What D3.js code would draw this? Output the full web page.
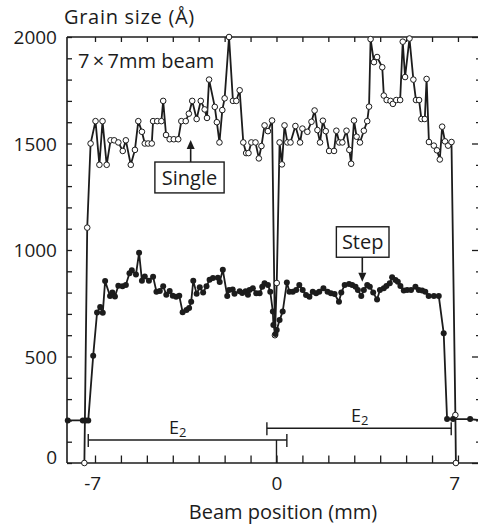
<!DOCTYPE html>
<html>
<head>
<meta charset="utf-8">
<script src="https://cdn.jsdelivr.net/npm/d3@7"></script>
<style>
body { margin: 0; background: #fff; }
svg text { font-family: "Open Sans", sans-serif; fill: #1c1c1c; }
</style>
</head>
<body>
<svg id="chart" width="478" height="526"></svg>
<script>
// grain size (Å) against beam position (mm)

var singleX = [-7.41,-7.30,-7.17,-6.98,-6.83,-6.71,-6.55,-6.40,-6.26,-6.10,
	-5.93,-5.81,-5.62,-5.46,-5.33,-5.19,-5.08,-4.95,-4.81,-4.76,
	-4.60,-4.44,-4.37,-4.26,-4.12,-3.96,-3.79,-3.67,-3.50,-3.38,
	-3.25,-3.08,-2.92,-2.77,-2.68,-2.60,-2.38,-2.30,-2.20,-2.09,
	-2.00,-1.83,-1.68,-1.55,-1.42,-1.28,-1.17,-1.08,-0.97,-0.81,
	-0.68,-0.58,-0.46,-0.33,-0.17,-0.06,0.01,0.12,0.21,0.31,
	0.42,0.54,0.73,0.91,1.00,1.19,1.35,1.47,1.58,1.68,
	1.79,1.90,2.03,2.22,2.31,2.42,2.54,2.70,2.81,2.88,
	2.99,3.09,3.22,3.37,3.50,3.57,3.63,3.76,3.88,4.08,
	4.14,4.25,4.40,4.49,4.62,4.77,4.87,4.96,5.13,5.28,
	5.38,5.50,5.59,5.72,5.79,5.88,6.07,6.19,6.30,6.39,
	6.50,6.62,6.75,6.90,6.92];
var singleY = [0,1105,1500,1605,1400,1605,1400,1515,1515,1505,
	1465,1515,1400,1470,1605,1555,1500,1500,1500,1605,
	1605,1605,1700,1540,1520,1520,1520,1605,1605,1640,
	1700,1615,1700,1660,1620,1800,1672,1600,1505,1657,
	1712,2000,1700,1700,1750,1505,1455,1455,1505,1505,
	1430,1488,1585,1558,1608,600,845,1505,1402,1585,
	1505,1505,1582,1505,1570,1555,1602,1655,1563,1505,
	1607,1558,1465,1465,1560,1505,1505,1560,1470,1405,
	1608,1532,1505,1560,1605,1673,1990,1882,1906,1858,
	1725,1704,1700,1686,1704,1704,1978,1812,1993,1800,
	1704,1704,1615,1615,1803,1507,1490,1468,1425,1579,
	1510,1490,1507,225,0];

var stepX = [-8.05,-7.47,-7.36,-7.26,-7.07,-6.92,-6.80,-6.70,-6.61,-6.42,
	-6.33,-6.23,-6.10,-5.94,-5.81,-5.67,-5.58,-5.42,-5.30,-5.19,
	-5.08,-4.92,-4.76,-4.63,-4.50,-4.37,-4.25,-4.12,-4.00,-3.87,
	-3.75,-3.62,-3.47,-3.37,-3.29,-3.21,-3.08,-2.96,-2.83,-2.70,
	-2.58,-2.45,-2.26,-2.19,-2.07,-1.90,-1.83,-1.69,-1.62,-1.42,
	-1.32,-1.19,-1.10,-1.04,-0.91,-0.78,-0.65,-0.55,-0.46,-0.33,
	-0.24,-0.14,-0.12,-0.04,0.01,0.12,0.24,0.40,0.50,0.63,
	0.76,0.88,1.01,1.14,1.27,1.40,1.53,1.65,1.81,1.97,
	2.10,2.24,2.41,2.50,2.63,2.80,2.92,3.05,3.14,3.27,
	3.37,3.50,3.60,3.73,3.88,3.99,4.14,4.24,4.37,4.46,
	4.59,4.68,4.78,4.91,5.04,5.19,5.36,5.49,5.62,5.74,
	5.87,6.07,6.26,6.45,6.58,6.81,7.47,7.90];
var stepY = [200,200,200,200,503,707,732,705,854,784,
	800,782,832,830,836,891,905,885,987,856,
	876,856,875,804,808,830,790,808,785,781,
	785,708,718,728,757,856,795,825,800,830,
	860,868,870,850,907,784,812,815,795,806,
	798,806,790,812,820,797,797,828,844,836,
	804,711,648,606,624,671,711,847,804,804,
	812,836,812,789,781,804,797,804,820,804,
	797,793,757,800,836,840,836,828,812,784,
	812,836,828,800,768,812,820,831,844,872,
	859,851,831,810,812,812,828,812,810,804,
	784,784,784,609,206,206,206,200];

// E2 bars (mm extent, height in Å) and their labels
var e2From = [-7.26, -0.37];
var e2To = [0.40, 6.74];
var e2Level = [108, 163];
var e2LabelX = [-3.81, 3.21];

var xTicks = [-7,-6,-5,-4,-3,-2,-1,0,1,2,3,4,5,6,7];
var xTickLabels = [-7, 0, 7];
var yTickLabels = [0, 500, 1000, 1500, 2000];
var xDomain = [-8.08, 7.85];
var yDomain = [0, 2000];

var svg = d3.select("#chart");
var ink = "#1c1c1c";

var x = d3.scaleLinear().domain(xDomain).range([67, 480]);
var y = d3.scaleLinear().domain(yDomain).range([463, 37]);
var yTicks = d3.range(0, 2001, 100);

function styleAxis(g) {
	g.select(".domain").remove();
	g.selectAll(".tick line").attr("stroke", ink).attr("stroke-width", 1.3);
	g.selectAll("text").attr("font-size", 19).attr("fill", ink);
}

// left axis, ticks point inwards
svg.append("g")
	.attr("transform", "translate(" + x(xDomain[0]) + ",0)")
	.call(d3.axisLeft(y).tickValues(yTicks).tickSize(-5).tickPadding(10)
		.tickFormat(function(d) { return yTickLabels.indexOf(d) >= 0 ? d : ""; }))
	.call(styleAxis)
	.selectAll("text").attr("dy", function(d) { return d == 0 ? "0.05em" : "0.36em"; });

// right axis, only its ticks are inside the picture
svg.append("g")
	.attr("transform", "translate(" + x(xDomain[1]) + ",0)")
	.call(d3.axisRight(y).tickValues(yTicks).tickSize(-4).tickFormat(""))
	.call(styleAxis)
	.selectAll(".tick line")
	.attr("x2", function(d) { return d % 500 == 0 ? -8 : -4; });

// bottom axis
var bottom = svg.append("g")
	.attr("transform", "translate(0," + y(0) + ")")
	.call(d3.axisBottom(x).tickValues(xTicks).tickSize(-7.5).tickPadding(14)
		.tickFormat(function(d) {
			if (xTickLabels.indexOf(d) < 0) return "";
			return d < 0 ? "-" + Math.abs(d) : d;
		}))
	.call(styleAxis);
bottom.selectAll("text")
	.attr("text-anchor", function(d) { return d < 0 ? "end" : "middle"; })
	.attr("dx", function(d) { return d < 0 ? "0.3em" : (d > 0 ? "-0.2em" : 0); });

// top axis
svg.append("g")
	.attr("transform", "translate(0," + y(yDomain[1]) + ")")
	.call(d3.axisTop(x).tickValues(xTicks).tickSize(-5).tickFormat(""))
	.call(styleAxis);

// frame
var frame = svg.append("g").attr("stroke", ink).attr("stroke-width", 1.6).attr("fill", "none");
frame.append("line")
	.attr("x1", x(xDomain[0])).attr("x2", x(xDomain[0]))
	.attr("y1", y(yDomain[0])).attr("y2", y(yDomain[1]));
frame.append("line")
	.attr("x1", x(xDomain[0])).attr("x2", x(xDomain[1]))
	.attr("y1", y(yDomain[0])).attr("y2", y(yDomain[0]));
frame.append("line")
	.attr("x1", x(xDomain[0])).attr("x2", x(xDomain[1]))
	.attr("y1", y(yDomain[1])).attr("y2", y(yDomain[1]));

// E2 extents
var e2 = svg.append("g").attr("stroke", ink).attr("stroke-width", 1.4);
e2.append("line")
	.attr("x1", x(0)).attr("x2", x(0))
	.attr("y1", y(0)).attr("y2", y(e2Level[0]));
e2Level.forEach(function(lv, i) {
	e2.append("line")
		.attr("x1", x(e2From[i])).attr("x2", x(e2To[i]))
		.attr("y1", y(lv)).attr("y2", y(lv));
	[e2From[i], e2To[i]].forEach(function(v) {
		e2.append("line")
			.attr("x1", x(v)).attr("x2", x(v))
			.attr("y1", y(lv) - 6).attr("y2", y(lv) + 7);
	});
	var t = svg.append("text")
		.attr("x", x(e2LabelX[i])).attr("y", y(lv) - 6)
		.attr("text-anchor", "middle")
		.attr("font-size", 18);
	t.append("tspan").text("E");
	t.append("tspan").attr("font-size", 13).attr("dy", 3).text("2");
});

// series
var singleData = singleX.map(function(v, i) { return [v, singleY[i]]; });
var stepData = stepX.map(function(v, i) { return [v, stepY[i]]; });
var line = d3.line()
	.x(function(d) { return x(d[0]); })
	.y(function(d) { return y(d[1]); });

svg.append("path").datum(singleData)
	.attr("d", line).attr("fill", "none")
	.attr("stroke", ink).attr("stroke-width", 1.8);
svg.append("g").selectAll("circle").data(singleData).enter()
	.append("circle")
	.attr("cx", function(d) { return x(d[0]); })
	.attr("cy", function(d) { return y(d[1]); })
	.attr("r", 2.8)
	.attr("fill", "#fff").attr("stroke", ink).attr("stroke-width", 1);

svg.append("path").datum(stepData)
	.attr("d", line).attr("fill", "none")
	.attr("stroke", ink).attr("stroke-width", 1.8);
svg.append("g").selectAll("circle").data(stepData).enter()
	.append("circle")
	.attr("cx", function(d) { return x(d[0]); })
	.attr("cy", function(d) { return y(d[1]); })
	.attr("r", 3)
	.attr("fill", ink);

// boxed labels with arrows
function callout(label, x0, x1, yTop, yBottom, ax, tipY, up) {
	var g = svg.append("g");
	g.append("rect")
		.attr("x", x(x0)).attr("y", y(yTop))
		.attr("width", x(x1) - x(x0)).attr("height", y(yBottom) - y(yTop))
		.attr("fill", "#fff").attr("stroke", ink).attr("stroke-width", 1.4);
	g.append("text")
		.attr("x", (x(x0) + x(x1)) / 2).attr("y", (y(yTop) + y(yBottom)) / 2)
		.attr("dy", "0.36em").attr("text-anchor", "middle")
		.attr("font-size", 20).text(label);
	var from = up ? y(yTop) : y(yBottom);
	var tip = y(tipY);
	var head = up ? 9 : -9;
	g.append("line")
		.attr("x1", x(ax)).attr("x2", x(ax))
		.attr("y1", from).attr("y2", tip + head)
		.attr("stroke", ink).attr("stroke-width", 1.6);
	g.append("path")
		.attr("d", "M" + x(ax) + "," + tip + "L" + (x(ax) - 4) + "," + (tip + head) +
			"L" + (x(ax) + 4) + "," + (tip + head) + "Z")
		.attr("fill", ink);
}
callout("Single", -4.69, -2.02, 1413, 1268, -3.31, 1516, true);
callout("Step", 2.31, 4.34, 1109, 966, 3.31, 851, false);

// titles
svg.append("text").attr("x", 64).attr("y", 24)
	.attr("font-size", 20).attr("letter-spacing", 0.7).text("Grain size (Å)");
svg.append("text").attr("x", 78).attr("y", 68)
	.attr("font-size", 20).text("7\u2009\u00d7\u20097mm beam");
svg.append("text").attr("x", 283).attr("y", 519)
	.attr("text-anchor", "middle")
	.attr("font-size", 20).text("Beam position (mm)");
</script>
</body>
</html>
